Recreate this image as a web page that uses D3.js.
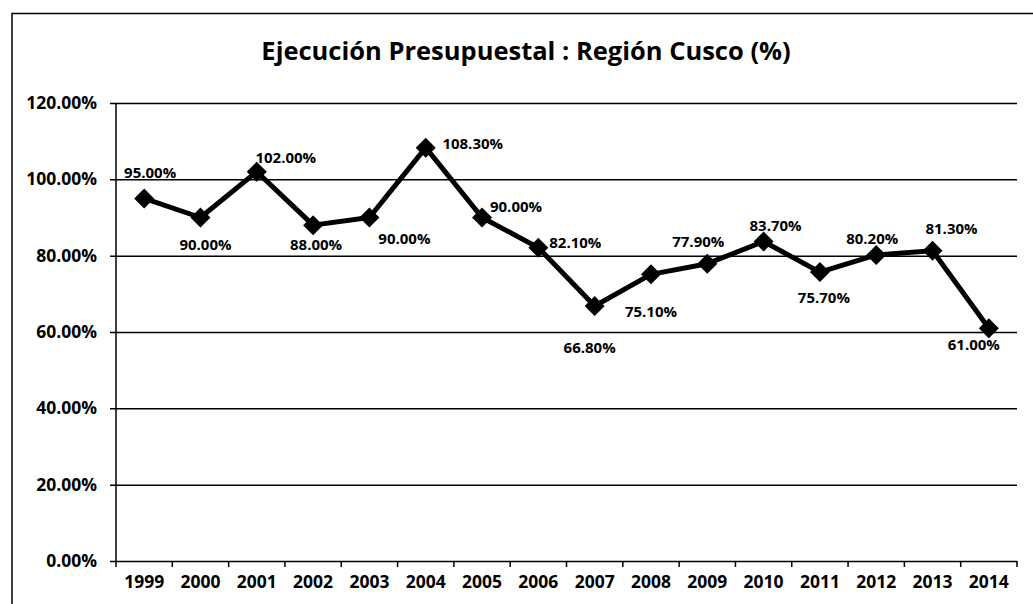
<!DOCTYPE html>
<html>
<head>
<meta charset="utf-8">
<script src="https://cdn.jsdelivr.net/npm/d3@7"></script>
<style>
    body { margin: 0; background: #fff; }
    svg { display: block; font-family: "Open Sans", sans-serif; }
    .tick text { font-family: "Open Sans", sans-serif; font-weight: bold; fill: #000; }
</style>
</head>
<body>
<div id="chart-div"></div>
<script>
// chart values
const years = ["1999", "2000", "2001", "2002", "2003", "2004", "2005", "2006",
    "2007", "2008", "2009", "2010", "2011", "2012", "2013", "2014"];
const execution = [95.0, 90.0, 102.0, 88.0, 90.0, 108.3, 90.0, 82.1,
    66.8, 75.1, 77.9, 83.7, 75.7, 80.2, 81.3, 61.0];
const yTicks = [0, 20, 40, 60, 80, 100, 120];
const chartTitle = "Ejecución Presupuestal : Región Cusco (%)";

// where each data label sits relative to its point (dx, dy)
const labelOffset = [[6, -20], [5, 32], [29, -9], [3, 25], [35, 26], [47, 1],
    [34, -6], [37, 0], [-5, 47], [0, 43], [-9, -17], [12, -11], [4, 31],
    [-4, -11], [19, -17], [-15, 22]];

// global sizes
const width = 1033;
const height = 604;
const plotLeft = 116;
const plotRight = 1017;
const plotTop = 103;
const plotBottom = 561;

const fmt = (v) => v.toFixed(2) + "%";

let svg = d3.select("#chart-div")
    .append("svg")
    .attr("width", width)
    .attr("height", height);

// frame of the chart (left and top edges only show in the picture)
svg.append("path")
    .attr("d", "M12,604 L12,13.5 L1033,13.5")
    .attr("fill", "none")
    .attr("stroke", "#000")
    .attr("stroke-width", 1.5);

// title
svg.append("text")
    .attr("x", 526)
    .attr("y", 60)
    .attr("text-anchor", "middle")
    .style("font-size", "25.5px")
    .style("font-weight", "bold")
    .text(chartTitle);

// scales
let xScale = d3.scaleBand()
    .domain(years)
    .range([plotLeft, plotRight])
    .padding(0);

let yScale = d3.scaleLinear()
    .domain([0, 120])
    .range([plotBottom, plotTop]);

const xMid = (d) => xScale(d) + xScale.bandwidth() / 2;

// y axis with gridlines
let yAxis = d3.axisLeft(yScale)
    .tickValues(yTicks)
    .tickFormat(fmt)
    .tickSize(-(plotRight - plotLeft))
    .tickPadding(19);

let yG = svg.append("g")
    .attr("id", "y-axis")
    .attr("transform", "translate(" + plotLeft + ",0)")
    .call(yAxis);
yG.select(".domain").remove();
yG.selectAll(".tick line")
    .attr("x1", -6)
    .attr("stroke", "#000")
    .attr("stroke-width", 1.5);
yG.selectAll(".tick text")
    .style("font-size", "17.5px");

// left axis line
svg.append("line")
    .attr("x1", plotLeft).attr("x2", plotLeft)
    .attr("y1", plotTop).attr("y2", plotBottom)
    .attr("stroke", "#000")
    .attr("stroke-width", 1.5);

// x axis labels
let xAxis = d3.axisBottom(xScale)
    .tickSize(0)
    .tickPadding(15);

let xG = svg.append("g")
    .attr("id", "x-axis")
    .attr("transform", "translate(0," + plotBottom + ")")
    .call(xAxis);
xG.select(".domain").remove();
xG.selectAll(".tick text")
    .style("font-size", "17.5px");

// x ticks sit between the categories
let edges = years.map((d) => xScale(d)).concat([plotRight]);
svg.append("g")
    .selectAll("line")
    .data(edges)
    .enter()
    .append("line")
    .attr("x1", (d) => d).attr("x2", (d) => d)
    .attr("y1", plotBottom).attr("y2", plotBottom + 6)
    .attr("stroke", "#000")
    .attr("stroke-width", 1.5);

// series line
let series = years.map((d, i) => ({ year: d, value: execution[i], i: i }));

svg.append("path")
    .datum(series)
    .attr("fill", "none")
    .attr("stroke", "#000")
    .attr("stroke-width", 5)
    .attr("stroke-linejoin", "round")
    .attr("d", d3.line()
        .x((d) => xMid(d.year))
        .y((d) => yScale(d.value)));

// diamond markers
svg.append("g")
    .selectAll("path")
    .data(series)
    .enter()
    .append("path")
    .attr("transform", (d) => "translate(" + xMid(d.year) + "," + yScale(d.value) + ")")
    .attr("d", "M0,-10 L10,0 L0,10 L-10,0 Z")
    .attr("fill", "#000");

// data labels
svg.append("g")
    .selectAll("text")
    .data(series)
    .enter()
    .append("text")
    .attr("x", (d) => xMid(d.year) + labelOffset[d.i][0])
    .attr("y", (d) => yScale(d.value) + labelOffset[d.i][1])
    .attr("text-anchor", "middle")
    .style("font-size", "15px")
    .style("font-weight", "bold")
    .text((d) => fmt(d.value));
</script>
</body>
</html>
